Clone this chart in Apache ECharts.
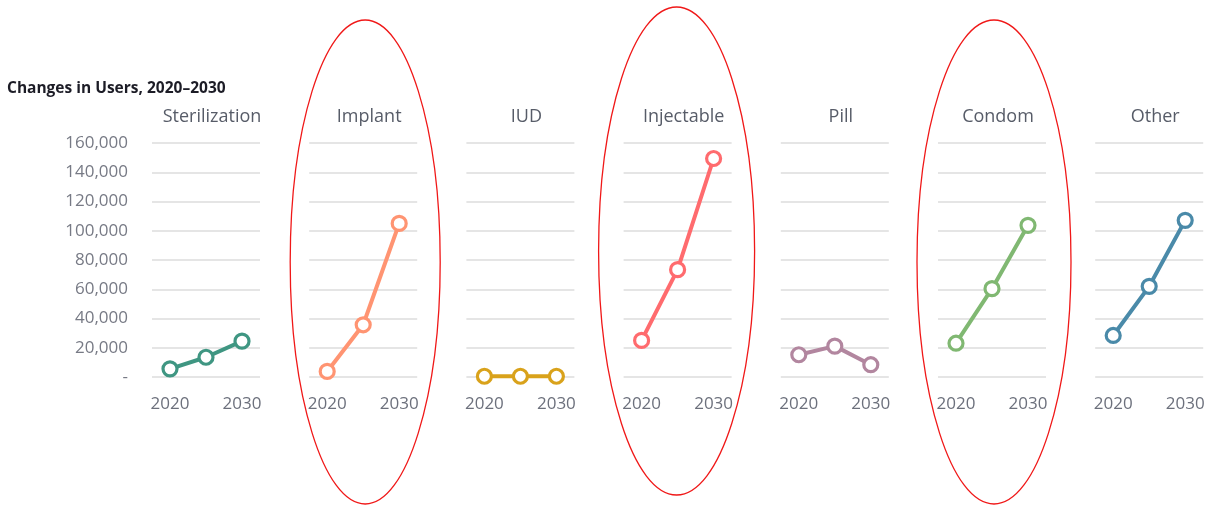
<!DOCTYPE html>
<html>
<head>
<meta charset="utf-8">
<script src="https://cdn.jsdelivr.net/npm/echarts@6/dist/echarts.min.js"></script>
<style>
  html, body { margin: 0; padding: 0; background: #fff; }
  #main { width: 1211px; height: 505px; }
</style>
</head>
<body>
<div id="main"></div>
<script>
// 数据
var years = ['2020', '2025', '2030'];
var methods = ['Sterilization', 'Implant', 'IUD', 'Injectable', 'Pill', 'Condom', 'Other'];
var sterilization = [5600, 13500, 24500];
var implant = [3800, 35700, 105000];
var iud = [500, 500, 500];
var injectable = [25000, 73400, 149400];
var pill = [15200, 21100, 8400];
var condom = [23100, 60400, 103700];
var other = [28400, 62000, 107100];
var yTicks = [0, 20000, 40000, 60000, 80000, 100000, 120000, 140000, 160000];
var highlighted = ['Implant', 'Injectable', 'Condom'];

var seriesData = [sterilization, implant, iud, injectable, pill, condom, other];
var colors = ['#3f9682', '#ff9472', '#d9a21b', '#ff6b6e', '#b2869f', '#80b872', '#4a8aa9'];

var myChart = echarts.init(document.getElementById('main'));

var font = 'Open Sans';
var panelLeft = 152, panelStep = 157.2, panelW = 108;
var gridTop = 143, gridH = 234;

var grids = [], xAxes = [], yAxes = [], series = [], titles = [];

titles.push({
    text: 'Changes in Users, 2020\u20132030',
    left: 2, top: 76,
    textStyle: { fontFamily: font, fontSize: 15.5, fontWeight: 'bold', color: '#1c1c26' }
});

methods.forEach(function (name, i) {
    var left = panelLeft + i * panelStep;
    grids.push({ left: left, top: gridTop, width: panelW, height: gridH });
    titles.push({
        text: name,
        left: left + panelW / 2 + 1, top: 103,
        textAlign: 'center',
        textStyle: { fontFamily: font, fontSize: 18, fontWeight: 'normal', color: '#575c68' }
    });
    xAxes.push({
        type: 'category', gridIndex: i, data: years,
        axisLine: { show: false }, axisTick: { show: false },
        axisLabel: {
            interval: 0, margin: 19,
            fontFamily: font, fontSize: 17, color: '#6c707c',
            formatter: function (v) { return v === '2025' ? '' : v; }
        }
    });
    yAxes.push({
        type: 'value', gridIndex: i,
        min: yTicks[0], max: yTicks[yTicks.length - 1], interval: 20000,
        axisLine: { show: false }, axisTick: { show: false },
        splitLine: { lineStyle: { color: '#dcdcdc', width: 1.6 } },
        axisLabel: {
            show: i === 0, margin: 24,
            fontFamily: font, fontSize: 17, color: '#777a85',
            formatter: function (v) { return v === 0 ? '-' : v.toLocaleString('en-US'); }
        }
    });
    series.push({
        name: name, type: 'line',
        xAxisIndex: i, yAxisIndex: i,
        data: seriesData[i],
        symbol: 'circle', symbolSize: 14,
        lineStyle: { color: colors[i], width: 4 },
        itemStyle: { color: '#fff', borderColor: colors[i], borderWidth: 3.2 },
        z: 3
    });
});

// 红色椭圆标注 (中心偏移、上下位置)
var ellipseBox = [
    { dx: 2, cy: 262, rx: 75, ry: 242 },
    { dx: -1, cy: 251, rx: 78, ry: 244 },
    { dx: 2, cy: 262, rx: 77, ry: 242 }
];
var ellipses = [];
highlighted.forEach(function (name, k) {
    var i = methods.indexOf(name);
    var b = ellipseBox[k];
    var cx = panelLeft + i * panelStep + panelW / 2 + b.dx;
    ellipses.push({
        type: 'ellipse',
        shape: { cx: cx, cy: b.cy, rx: b.rx, ry: b.ry },
        style: { fill: 'none', stroke: '#f01818', lineWidth: 1.3 },
        z: 10
    });
});

var option = {
    backgroundColor: '#fff',
    animation: false,
    title: titles,
    grid: grids,
    xAxis: xAxes,
    yAxis: yAxes,
    series: series,
    graphic: ellipses
};

myChart.setOption(option);
</script>
</body>
</html>
